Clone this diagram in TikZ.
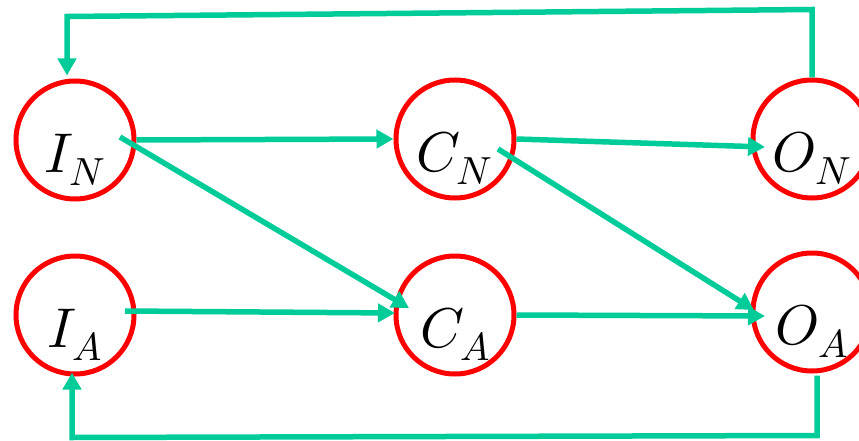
\documentclass[tikz,border=0pt]{standalone}
\usepackage{unicode-math}
\setmathfont{Latin Modern Math}
\usetikzlibrary{arrows.meta, calc}
\definecolor{grn}{RGB}{0,204,153}
\begin{document}
\begin{tikzpicture}[x=1pt, y=-1pt,
    st/.style={circle, draw=red, line width=5pt, minimum size=118pt, inner sep=0pt,
      font=\fontsize{56}{60}\selectfont, text height=64pt, text depth=0pt},
    ar/.style={draw=grn, line width=5.5pt, -{Triangle[length=17pt,width=18pt]}}]
\clip (0,0) rectangle (859,441);
\node[st] (IN) at (75,140)  {$I_N$};
\node[st] (CN) at (455,139) {$C_N$};
\node[st] (ON) at (812,139) {$O_N$};
\node[st] (IA) at (75,315)  {$I_A$};
\node[st] (CA) at (455,315) {$C_A$};
\node[st] (OA) at (812,312) {$O_A$};
\draw[ar] (IN.east) -- (CN.west);
\draw[ar] ($(IN)+(45,-3)$) -- ($(CA)+(-46,-7)$);
\draw[ar] ($(IA)+(50,-4)$) -- ($(CA)+(-60,-2)$);
\draw[ar] (CN.east) -- ($(ON)+(-47,8)$);
\draw[ar] ($(CN)+(43,10)$) -- ($(OA)+(-58,-2)$);
\draw[ar] (CA.east) -- ($(OA)+(-47,4)$);
\draw[ar] (ON.north) -- ++(0,-68) -- ($(IN.north)+(-8,-62)$) -- ($(IN.north)+(-8,-3)$);
\draw[ar] ($(OA.south)+(5,2)$) -- ++(0,60) -- ($(IA.south)+(-3,61)$) -- ($(IA.south)+(-3,-4)$);
\end{tikzpicture}
\end{document}
